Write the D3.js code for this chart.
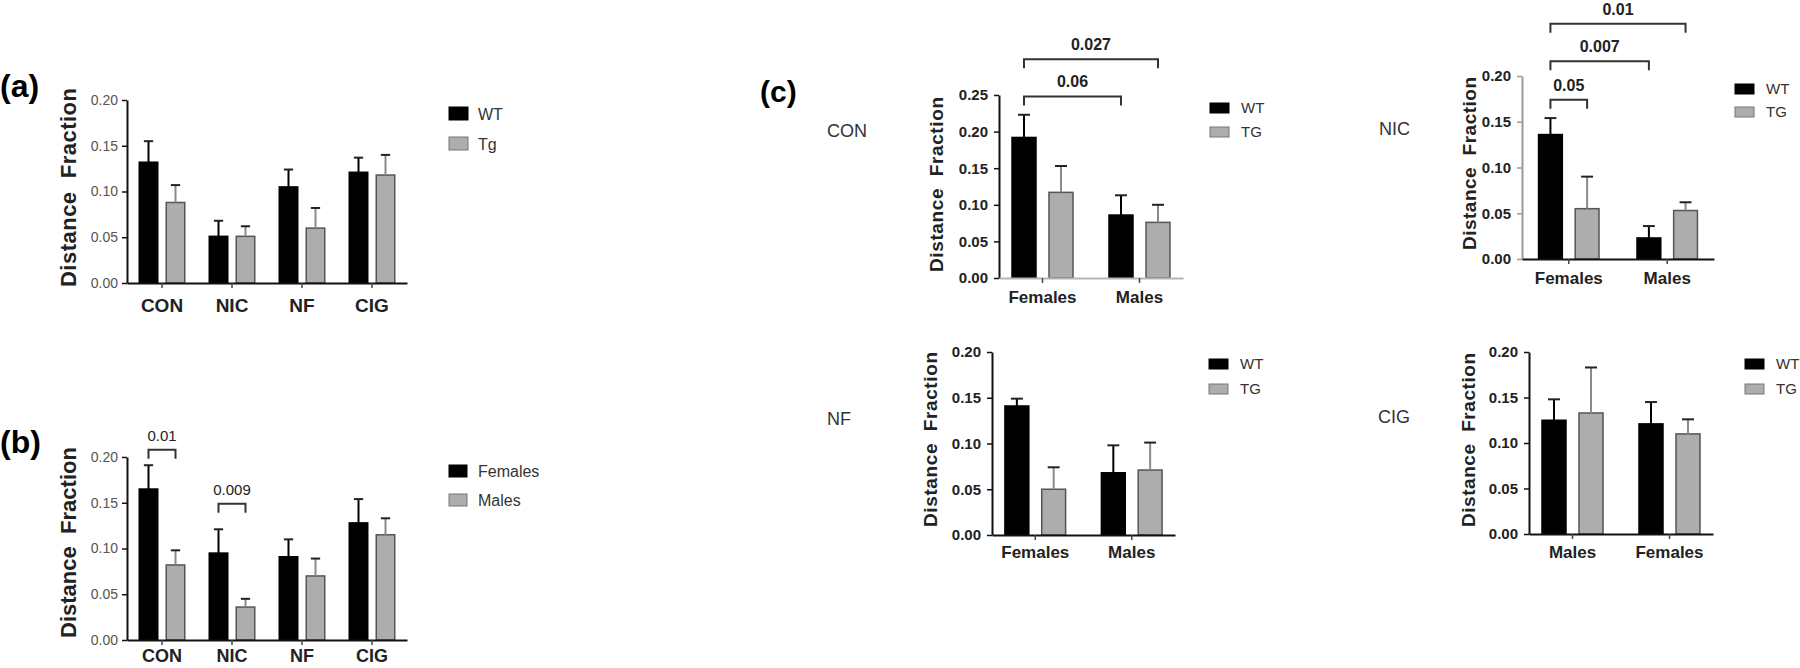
<!DOCTYPE html>
<html>
<head>
<meta charset="utf-8">
<script src="https://cdn.jsdelivr.net/npm/d3@7"></script>
<style>
  body { margin: 0; background: #fff; }
  svg { display: block; }
  text { font-family: "Liberation Sans", Arial, sans-serif; }
</style>
</head>
<body>
<svg id="fig" width="1800" height="668"></svg>
<script>
// ---- data ----
const treatments = ["CON", "NIC", "NF", "CIG"];
const sexesFM = ["Females", "Males"];
const sexesMF = ["Males", "Females"];
const ticks20 = [0, 0.05, 0.10, 0.15, 0.20];
const ticks25 = [0, 0.05, 0.10, 0.15, 0.20, 0.25];

// (a) genotype, sexes pooled
const aWT = [0.132, 0.051, 0.105, 0.121];
const aWTsem = [0.023, 0.017, 0.019, 0.016];
const aTG = [0.088, 0.051, 0.060, 0.118];
const aTGsem = [0.019, 0.011, 0.022, 0.022];

// (b) sex, genotypes pooled
const bF = [0.165, 0.095, 0.091, 0.128];
const bFsem = [0.026, 0.026, 0.019, 0.026];
const bM = [0.082, 0.036, 0.070, 0.115];
const bMsem = [0.016, 0.009, 0.019, 0.018];

// (c) per treatment, sex x genotype
const conWT = [0.192, 0.086], conWTsem = [0.031, 0.027];
const conTG = [0.117, 0.076], conTGsem = [0.036, 0.024];
const nicWT = [0.136, 0.023], nicWTsem = [0.018, 0.013];
const nicTG = [0.055, 0.053], nicTGsem = [0.035, 0.009];
const nfWT = [0.141, 0.068], nfWTsem = [0.008, 0.030];
const nfTG = [0.050, 0.071], nfTGsem = [0.024, 0.030];
const cigWT = [0.125, 0.121], cigWTsem = [0.023, 0.024];
const cigTG = [0.133, 0.110], cigTGsem = [0.050, 0.016];

// p-value brackets: from/to = [category index, series index], level in data units
const bSig = [
  { from: [0, 0], to: [0, 1], level: 0.208, label: "0.01" },
  { from: [1, 0], to: [1, 1], level: 0.149, label: "0.009" }
];
const conSig = [
  { from: [0, 0], to: [1, 0], level: 0.248, label: "0.06" },
  { from: [0, 0], to: [1, 1], level: 0.299, label: "0.027" }
];
const nicSig = [
  { from: [0, 0], to: [0, 1], level: 0.174, label: "0.05" },
  { from: [0, 0], to: [1, 0], level: 0.216, label: "0.007" },
  { from: [0, 0], to: [1, 1], level: 0.257, label: "0.01" }
];

const black = "#000", grey = "#adadad";
const svg = d3.select("#fig");

function drawPanel(p) {
  const g = svg.append("g");
  const y = d3.scaleLinear().domain([0, p.yMax]).range([p.y0, p.yTop]);
  const x0 = d3.scaleBand().domain(p.cats).range([p.left, p.right])
    .paddingInner(p.pi).paddingOuter(p.po);
  const x1 = d3.scaleBand().domain(p.series.map(s => s.name))
    .range([0, x0.bandwidth()]).paddingInner(p.pi2);
  const cap = x1.bandwidth() * 0.5;
  const barCenter = (ci, si) => x0(p.cats[ci]) + x1(p.series[si].name) + x1.bandwidth() / 2;

  // bars + error bars
  p.series.forEach(s => {
    const rows = p.cats.map((c, i) => ({ c: c, v: s.vals[i], e: s.sem[i] }));
    const grp = g.append("g");
    grp.selectAll("rect").data(rows).enter().append("rect")
      .attr("x", d => x0(d.c) + x1(s.name))
      .attr("y", d => y(d.v))
      .attr("width", x1.bandwidth())
      .attr("height", d => y(0) - y(d.v))
      .attr("fill", s.fill)
      .attr("stroke", s.stroke)
      .attr("stroke-width", 1.5);
    grp.selectAll(".eb").data(rows).enter().append("line")
      .attr("x1", d => x0(d.c) + x1(s.name) + x1.bandwidth() / 2)
      .attr("x2", d => x0(d.c) + x1(s.name) + x1.bandwidth() / 2)
      .attr("y1", d => y(d.v))
      .attr("y2", d => y(d.v + d.e))
      .attr("stroke", s.errColor)
      .attr("stroke-width", 2);
    grp.selectAll(".cap").data(rows).enter().append("line")
      .attr("x1", d => x0(d.c) + x1(s.name) + x1.bandwidth() / 2 - cap / 2)
      .attr("x2", d => x0(d.c) + x1(s.name) + x1.bandwidth() / 2 + cap / 2)
      .attr("y1", d => y(d.v + d.e))
      .attr("y2", d => y(d.v + d.e))
      .attr("stroke", "#222")
      .attr("stroke-width", 2);
  });

  // y axis
  const ya = g.append("g").attr("transform", `translate(${p.left},0)`)
    .call(d3.axisLeft(y).tickValues(p.ticks).tickFormat(d3.format(".2f"))
      .tickSize(5).tickSizeOuter(0).tickPadding(p.yPad));
  ya.select(".domain").attr("stroke", p.yAxisColor).attr("stroke-width", 2);
  ya.selectAll(".tick line").attr("stroke", p.yAxisColor).attr("stroke-width", 1.5);
  ya.selectAll("text").attr("font-size", p.yFont).attr("font-weight", p.yWeight)
    .attr("fill", p.yTextColor);

  // x axis
  const xa = g.append("g").attr("transform", `translate(0,${p.y0})`)
    .call(d3.axisBottom(x0).tickSize(5).tickSizeOuter(0).tickPadding(p.xPad));
  xa.select(".domain").attr("stroke", p.xAxisColor).attr("stroke-width", 2);
  xa.selectAll(".tick line").attr("stroke", "#444").attr("stroke-width", 1.5);
  xa.selectAll("text").attr("font-size", p.xFont).attr("font-weight", "bold").attr("fill", "#222");

  // y title
  g.append("text")
    .attr("transform", `translate(${p.titleX},${(p.titleTop + p.titleBottom) / 2}) rotate(-90)`)
    .attr("text-anchor", "middle")
    .attr("font-size", p.titleFont)
    .attr("font-weight", "bold")
    .attr("fill", "#222")
    .attr("textLength", p.titleBottom - p.titleTop)
    .attr("xml:space", "preserve")
    .text("Distance  Fraction");

  // legend
  p.series.forEach((s, i) => {
    const ly = p.legY[i];
    g.append("rect").attr("x", p.legX).attr("y", ly)
      .attr("width", p.legW).attr("height", p.legH)
      .attr("fill", s.fill).attr("stroke", s.legStroke).attr("stroke-width", 1);
    g.append("text").attr("x", p.legX + p.legTextDx).attr("y", ly + p.legH)
      .attr("font-size", p.legFont).attr("fill", "#333").text(s.name);
  });

  // significance brackets
  (p.sig || []).forEach(b => {
    const xa1 = barCenter(b.from[0], b.from[1]);
    const xa2 = barCenter(b.to[0], b.to[1]);
    const yb = y(b.level);
    g.append("path")
      .attr("d", `M${xa1},${yb + 9}V${yb}H${xa2}V${yb + 9}`)
      .attr("fill", "none").attr("stroke", "#333").attr("stroke-width", 2);
    g.append("text").attr("x", (xa1 + xa2) / 2).attr("y", yb - 9)
      .attr("text-anchor", "middle").attr("font-size", p.sigFont)
      .attr("font-weight", p.sigWeight).attr("fill", "#222").text(b.label);
  });
}

function genoSeries(wt, wtSem, tg, tgSem, tgName) {
  return [
    { name: "WT", vals: wt, sem: wtSem, fill: black, stroke: black, errColor: black, legStroke: black },
    { name: tgName, vals: tg, sem: tgSem, fill: grey, stroke: "#555", errColor: "#8a8a8a", legStroke: "#777" }
  ];
}

const abBase = {
  cats: treatments, yMax: 0.20, ticks: ticks20, left: 127, right: 407,
  pi: 0.35, po: 0.175, pi2: 0.315,
  yPad: 4, yFont: 14, yWeight: "normal", yTextColor: "#555",
  yAxisColor: "#111", xAxisColor: "#111", xFont: 19,
  titleFont: 22, legX: 449, legW: 19, legH: 13, legTextDx: 29, legFont: 16,
  sigFont: 15, sigWeight: "normal"
};
const cBase = {
  yPad: 6, yFont: 15, yWeight: "bold", yTextColor: "#222",
  yAxisColor: "#111", xAxisColor: "#111", xFont: 17,
  pi: 0.371, po: 0.134, pi2: 0.351,
  titleFont: 19, legW: 19, legH: 10, legTextDx: 31, legFont: 15,
  sigFont: 16, sigWeight: "bold"
};

// (a)
drawPanel(Object.assign({}, abBase, {
  series: genoSeries(aWT, aWTsem, aTG, aTGsem, "Tg"),
  y0: 283, yTop: 100, xPad: 10.5,
  titleX: 76, titleTop: 88, titleBottom: 287, legY: [107, 137]
}));

// (b)
drawPanel(Object.assign({}, abBase, {
  series: [
    { name: "Females", vals: bF, sem: bFsem, fill: black, stroke: black, errColor: black, legStroke: black },
    { name: "Males", vals: bM, sem: bMsem, fill: grey, stroke: "#555", errColor: "#8a8a8a", legStroke: "#777" }
  ],
  y0: 640, yTop: 457, xPad: 4, xFont: 18,
  titleX: 76, titleTop: 447, titleBottom: 638, legY: [465, 494], legH: 12, legW: 18,
  sig: bSig
}));

// (c) CON
drawPanel(Object.assign({}, cBase, {
  cats: sexesFM, series: genoSeries(conWT, conWTsem, conTG, conTGsem, "TG"),
  yMax: 0.25, ticks: ticks25, left: 999, right: 1183, y0: 278, yTop: 95, xPad: 8,
  xAxisColor: "#b5b5b5",
  titleX: 943, titleTop: 97, titleBottom: 272, legX: 1210, legY: [103, 127],
  sig: conSig
}));

// (c) NIC
drawPanel(Object.assign({}, cBase, {
  cats: sexesFM, series: genoSeries(nicWT, nicWTsem, nicTG, nicTGsem, "TG"),
  yMax: 0.20, ticks: ticks20, left: 1522, right: 1714, y0: 259, yTop: 76, xPad: 8,
  pi: 0.386, po: 0.168, yAxisColor: "#999",
  titleX: 1476, titleTop: 77, titleBottom: 250, legX: 1735, legY: [84, 107],
  sig: nicSig
}));

// (c) NF
drawPanel(Object.assign({}, cBase, {
  cats: sexesFM, series: genoSeries(nfWT, nfWTsem, nfTG, nfTGsem, "TG"),
  yMax: 0.20, ticks: ticks20, left: 992, right: 1175, y0: 535, yTop: 352, xPad: 6,
  titleX: 937, titleTop: 352, titleBottom: 527, legX: 1209, legY: [359, 384]
}));

// (c) CIG
drawPanel(Object.assign({}, cBase, {
  cats: sexesMF, series: genoSeries(cigWT, cigWTsem, cigTG, cigTGsem, "TG"),
  yMax: 0.20, ticks: ticks20, left: 1529, right: 1713, y0: 534, yTop: 352, xPad: 7,
  titleX: 1475, titleTop: 353, titleBottom: 527, legX: 1745, legY: [359, 384]
}));

// panel letters and treatment names
const labels = svg.append("g");
labels.append("text").attr("x", 0).attr("y", 97).attr("font-size", 32).attr("font-weight", "bold").text("(a)");
labels.append("text").attr("x", 0).attr("y", 453).attr("font-size", 32).attr("font-weight", "bold").text("(b)");
labels.append("text").attr("x", 760).attr("y", 102).attr("font-size", 30).attr("font-weight", "bold").text("(c)");
[["CON", 827, 137], ["NIC", 1379, 135], ["NF", 827, 425], ["CIG", 1378, 423]].forEach(t => {
  labels.append("text").attr("x", t[1]).attr("y", t[2]).attr("font-size", 18).attr("fill", "#333").text(t[0]);
});
</script>
</body>
</html>
